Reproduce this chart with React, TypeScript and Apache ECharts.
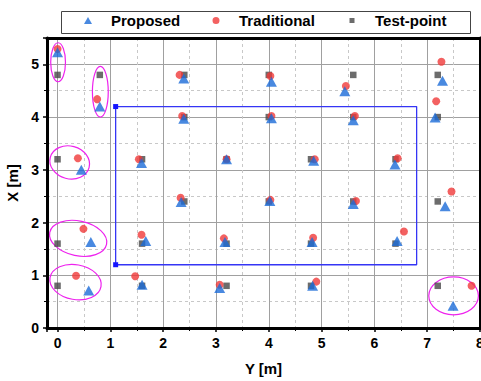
import React, { useEffect, useRef } from 'react';
import * as echarts from 'echarts';

const FONT = "'Liberation Sans', Arial, sans-serif";

const legendNames = ['Proposed', 'Traditional', 'Test-point'];

// [Y, X] pairs in metres
const testPoints = [
  [0, 0.8], [0, 1.6], [0, 3.2], [0, 4.8],
  [0.8, 4.8],
  [1.6, 0.8], [1.6, 1.6], [1.6, 3.2],
  [2.4, 2.4], [2.4, 4.0], [2.4, 4.8],
  [3.2, 0.8], [3.2, 1.6], [3.2, 3.2],
  [4.0, 2.4], [4.0, 4.0], [4.0, 4.8],
  [4.8, 0.8], [4.8, 1.6], [4.8, 3.2],
  [5.6, 2.4], [5.6, 4.0], [5.6, 4.8],
  [6.4, 1.6], [6.4, 3.2],
  [7.2, 0.8], [7.2, 2.4], [7.2, 4.0], [7.2, 4.8],
];

const traditional = [
  [0.0, 5.29], [0.385, 3.22], [0.49, 1.88], [0.35, 0.99],
  [0.75, 4.34],
  [1.47, 0.98], [1.59, 1.77], [1.54, 3.2],
  [2.33, 2.47], [2.36, 4.02], [2.31, 4.8],
  [3.07, 0.82], [3.15, 1.7], [3.2, 3.2],
  [4.03, 2.43], [4.05, 4.02], [4.03, 4.78],
  [4.9, 0.88], [4.84, 1.71], [4.87, 3.2],
  [5.65, 2.41], [5.63, 4.02], [5.46, 4.59],
  [6.56, 1.83], [6.44, 3.22],
  [7.84, 0.8], [7.46, 2.59], [7.17, 4.3], [7.27, 5.05],
];

const proposed = [
  [0.0, 5.23], [0.45, 3.0], [0.63, 1.63], [0.59, 0.71],
  [0.8, 4.2],
  [1.6, 0.82], [1.67, 1.65], [1.59, 3.13],
  [2.34, 2.39], [2.39, 3.97], [2.39, 4.73],
  [3.07, 0.76], [3.17, 1.63], [3.2, 3.2],
  [4.02, 2.41], [4.05, 3.98], [4.05, 4.67],
  [4.83, 0.8], [4.82, 1.63], [4.85, 3.17],
  [5.6, 2.35], [5.6, 3.94], [5.44, 4.49],
  [6.43, 1.65], [6.39, 3.1],
  [7.49, 0.42], [7.34, 2.31], [7.15, 3.99], [7.29, 4.69],
];

// region outline: Y range and X range
const regionY = [1.1, 6.8];
const regionX = [1.2, 4.2];

// highlighted groups: [centerY, centerX, radiusY, radiusX, tiltDeg]
const highlights = [
  [0.01, 5.04, 0.14, 0.37, 0],
  [0.81, 4.48, 0.15, 0.48, 0],
  [0.23, 3.14, 0.38, 0.31, -15],
  [0.39, 1.7, 0.55, 0.33, -12],
  [0.34, 0.87, 0.49, 0.33, -10],
  [7.5, 0.61, 0.47, 0.36, 0],
];

const xRange = [-0.2, 8];
const yRange = [0, 5.5];

const intLabel = (v: number) => (Number.isInteger(v) ? String(v) : '');

const legendIcons = [
  'path://M0,0 M36,9 M14,8 L18,1 L22,8 Z',
  'path://M0,0 M36,9 M14.5,4.5 a3.5,3.5 0 1,0 7,0 a3.5,3.5 0 1,0 -7,0 Z',
  'path://M0,0 M36,9 M15.5,2 h5 v5 h-5 Z',
];
const legendLefts = [70, 198, 334];

export default function App() {
  const ref = useRef<HTMLDivElement>(null);
  useEffect(() => {
    if (!ref.current) return;
    const chart = echarts.init(ref.current, undefined, { renderer: 'svg' });
    const regionPath = [
      [regionY[0], regionX[1]],
      [regionY[1], regionX[1]],
      [regionY[1], regionX[0]],
      [regionY[0], regionX[0]],
      [regionY[0], regionX[1]],
    ];
    const axisText = { fontSize: 14, fontWeight: 'bold', color: '#000', fontFamily: FONT };
    const nameText = { fontSize: 15, fontWeight: 'bold', color: '#000', fontFamily: FONT };
    const splitLine = { show: true, lineStyle: { color: '#a0a0a0', width: 1 } };
    const minorSplitLine = { show: true, lineStyle: { color: '#c8c8c8', type: [3, 3], width: 1 } };
    chart.setOption({
      animation: false,
      backgroundColor: '#fff',
      grid: { left: 47, right: 1, top: 38, bottom: 53, containLabel: false, outerBoundsMode: 'none' },
      graphic: [
        {
          type: 'rect',
          left: 59,
          top: 9,
          shape: { width: 409, height: 22 },
          style: { fill: 'none', stroke: '#444', lineWidth: 1 },
          silent: true,
        },
      ],
      legend: legendNames.map((name, i) => ({
        data: [{ name, icon: legendIcons[i] }],
        left: legendLefts[i],
        top: 13,
        itemWidth: 36,
        itemHeight: 9,
        padding: 0,
        textStyle: { fontSize: 15, fontWeight: 'bold', color: '#000', fontFamily: FONT },
      })),
      xAxis: [
        {
          type: 'value', min: xRange[0], max: xRange[1], splitNumber: 8, minInterval: 1, maxInterval: 1,
          position: 'bottom', name: 'Y [m]', nameLocation: 'middle', nameGap: 33, nameTextStyle: nameText,
          axisLine: { show: true, onZero: false, lineStyle: { color: '#000', width: 3 } },
          axisTick: { show: true, length: 4, lineStyle: { color: '#000', width: 1.5 } },
          minorTick: { show: true, splitNumber: 2, length: 3, lineStyle: { color: '#000', width: 1 } },
          axisLabel: { ...axisText, formatter: intLabel, margin: 8 },
          splitLine, minorSplitLine,
        },
        {
          type: 'value', min: xRange[0], max: xRange[1], position: 'top',
          axisLine: { show: true, onZero: false, lineStyle: { color: '#000', width: 3 } },
          axisTick: { show: false }, axisLabel: { show: false }, splitLine: { show: false },
        },
      ],
      yAxis: [
        {
          type: 'value', min: yRange[0], max: yRange[1], interval: 1,
          position: 'left', name: 'X [m]', nameLocation: 'middle', nameGap: 22, nameTextStyle: nameText,
          axisLine: { show: true, onZero: false, lineStyle: { color: '#000', width: 3 } },
          axisTick: { show: true, length: 4, lineStyle: { color: '#000', width: 1.5 } },
          minorTick: { show: true, splitNumber: 2, length: 3, lineStyle: { color: '#000', width: 1 } },
          axisLabel: { ...axisText, formatter: intLabel, margin: 8 },
          splitLine, minorSplitLine,
        },
        {
          type: 'value', min: yRange[0], max: yRange[1], position: 'right',
          axisLine: { show: true, onZero: false, lineStyle: { color: '#000', width: 3 } },
          axisTick: { show: false }, axisLabel: { show: false }, splitLine: { show: false },
        },
      ],
      series: [
        {
          type: 'custom',
          name: 'highlight',
          silent: true,
          clip: false,
          encode: { x: 0, y: 1 },
          data: highlights,
          renderItem: (params: any, api: any) => {
            const c = api.coord([api.value(0), api.value(1)]);
            const s = api.size([api.value(2), api.value(3)]);
            return {
              type: 'ellipse',
              x: c[0],
              y: c[1],
              rotation: (api.value(4) * Math.PI) / 180,
              shape: { cx: 0, cy: 0, rx: s[0], ry: s[1] },
              style: { fill: 'none', stroke: '#ee22ee', lineWidth: 1.2 },
            };
          },
        },
        {
          type: 'line',
          name: 'region',
          silent: true,
          data: regionPath.map((p, i) => ({ value: p, symbol: i === 0 || i === 3 ? 'rect' : 'none' })),
          symbolSize: 5,
          lineStyle: { color: '#3535f5', width: 1.3 },
          itemStyle: { color: '#1515ff' },
        },
        {
          type: 'scatter',
          name: legendNames[2],
          data: testPoints,
          symbol: 'rect',
          symbolSize: 6.5,
          itemStyle: { color: '#474747' },
        },
        {
          type: 'scatter',
          name: legendNames[1],
          data: traditional,
          symbol: 'circle',
          symbolSize: 8,
          itemStyle: { color: '#f03a3a' },
        },
        {
          type: 'scatter',
          name: legendNames[0],
          data: proposed,
          symbol: 'triangle',
          symbolSize: [11, 10],
          itemStyle: { color: '#1c6cd8' },
        },
      ],
    });
    return () => chart.dispose();
  }, []);
  return <div ref={ref} style={{ position: 'fixed', left: 0, top: 0, width: 481, height: 381 }} />;
}
